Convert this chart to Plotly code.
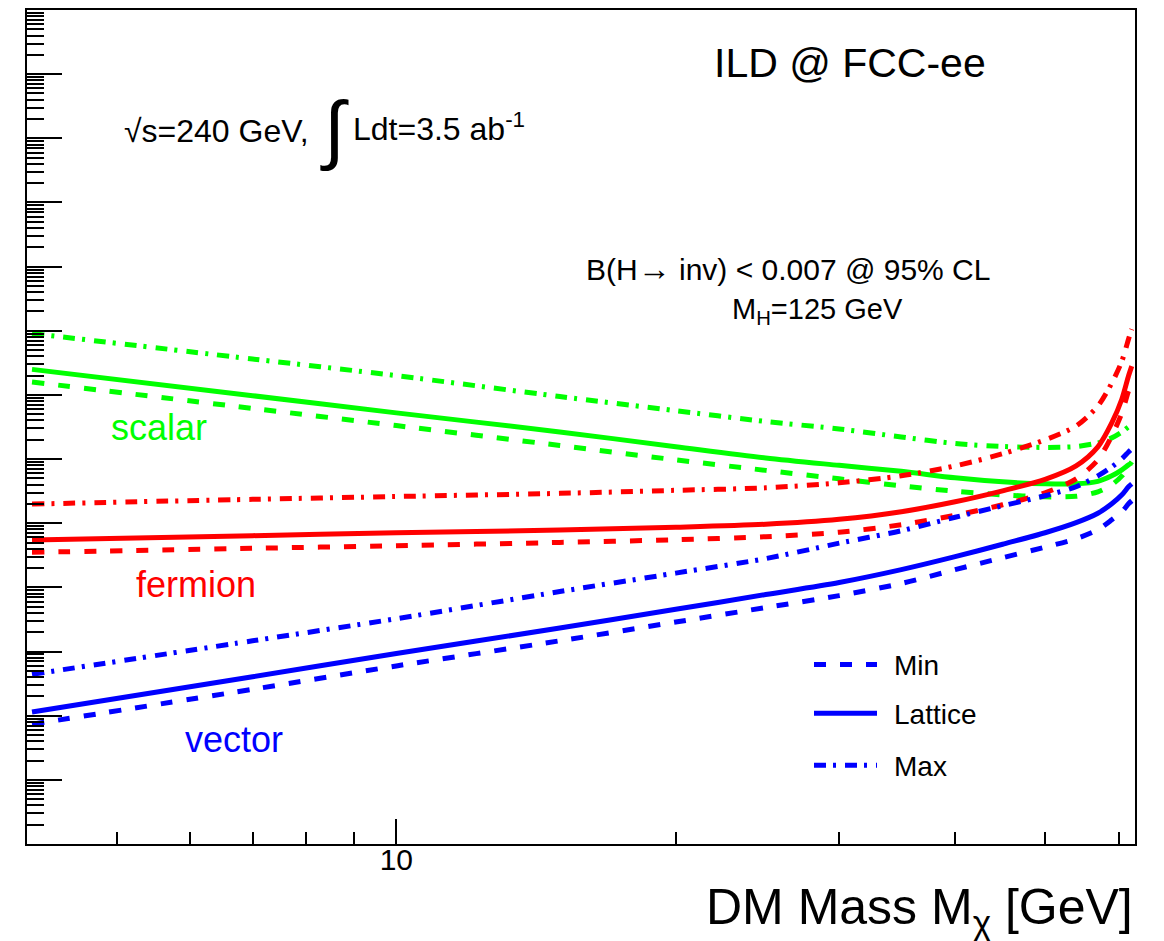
import math
import plotly.graph_objects as go

# ---------------- data (DM mass in GeV, cross section in cm^2) ----------------
mass = [4.05, 7, 10, 15, 20, 25, 30, 35, 40, 45, 50, 54, 57, 59, 60.5, 61.5, 62]

scalar_max = [9.08e-45, 3.63e-45, 2.00e-45, 9.44e-46, 5.68e-46, 3.85e-46, 2.95e-46, 2.21e-46, 1.75e-46,
              1.57e-46, 1.52e-46, 1.57e-46, 1.79e-46, 2.14e-46, 2.65e-46, 3.17e-46, 3.40e-46]
scalar_lat = [2.50e-45, 9.72e-46, 5.25e-46, 2.65e-46, 1.56e-46, 1.04e-46, 7.98e-47, 6.44e-47, 5.11e-47,
              4.42e-47, 4.11e-47, 4.11e-47, 4.50e-47, 5.48e-47, 6.79e-47, 8.13e-47, 8.73e-47]
scalar_min = [1.59e-45, 6.17e-46, 3.33e-46, 1.63e-46, 9.72e-47, 6.67e-47, 4.92e-47, 3.83e-47, 3.15e-47,
              2.77e-47, 2.58e-47, 2.63e-47, 3.09e-47, 3.97e-47, 5.48e-47, 7.57e-47, 9.04e-47]

fermion_max = [1.99e-47, 2.36e-47, 2.61e-47, 2.92e-47, 3.26e-47, 3.56e-47, 4.27e-47, 5.48e-47, 7.83e-47,
               1.21e-46, 1.99e-46, 3.28e-46, 6.71e-46, 1.53e-45, 3.37e-45, 7.40e-45, 1.06e-44]
fermion_lat = [5.48e-48, 6.40e-48, 7.11e-48, 7.83e-48, 8.67e-48, 9.64e-48, 1.15e-47, 1.51e-47, 2.16e-47,
               3.20e-47, 4.83e-47, 7.83e-47, 1.55e-46, 3.66e-46, 8.63e-46, 1.97e-45, 2.81e-45]
fermion_min = [3.52e-48, 4.06e-48, 4.47e-48, 5.02e-48, 5.53e-48, 6.17e-48, 7.24e-48, 9.48e-48, 1.33e-47,
               1.94e-47, 2.98e-47, 4.92e-47, 9.72e-47, 2.30e-46, 5.24e-46, 1.15e-45, 1.53e-45]

vector_max = [4.41e-50, 1.47e-49, 3.25e-49, 8.61e-49, 1.67e-48, 2.81e-48, 4.89e-48, 7.64e-48, 1.24e-47,
              1.87e-47, 2.68e-47, 3.70e-47, 5.48e-47, 7.57e-47, 1.01e-46, 1.29e-46, 1.44e-46]
vector_lat = [1.14e-50, 4.05e-50, 9.33e-50, 2.32e-49, 4.55e-49, 7.73e-49, 1.19e-48, 1.89e-48, 3.01e-48,
              4.71e-48, 7.11e-48, 1.02e-47, 1.43e-47, 2.01e-47, 2.77e-47, 3.70e-47, 4.11e-47]
vector_min = [7.35e-51, 2.58e-50, 5.97e-50, 1.47e-49, 2.88e-49, 4.85e-49, 7.45e-49, 1.15e-48, 1.89e-48,
              2.90e-48, 4.24e-48, 5.74e-48, 7.93e-48, 1.13e-47, 1.51e-47, 2.01e-47, 2.24e-47]

x_major_ticks = [10]
x_tick_labels = ["10"]
x_minor_ticks = [5, 6, 7, 8, 9, 20, 30, 40, 50, 60]
y_decades = list(range(-52, -38))

legend_labels = ["Min", "Lattice", "Max"]
type_labels = ["scalar", "fermion", "vector"]

# ---------------- styles ----------------
GREEN, RED, BLUE = "#00ff00", "#ff0000", "#0000ff"
DASHED = "12px,14px"
DASHDOT = "12px,7px,3px,9px"
LW = 5
FONT = "Liberation Sans, Arial, Helvetica, sans-serif"

W, H = 1164, 941
L, R, T, B = 27, 29, 8, 97
PW, PH = W - L - R, H - T - B


def px(x):
    return (x - L) / PW


def py(y):
    return (T + PH - y) / PH


fig = go.Figure()

curves = [
    (scalar_min, GREEN, DASHED), (scalar_lat, GREEN, "solid"), (scalar_max, GREEN, DASHDOT),
    (fermion_min, RED, DASHED), (fermion_lat, RED, "solid"), (fermion_max, RED, DASHDOT),
    (vector_min, BLUE, DASHED), (vector_lat, BLUE, "solid"), (vector_max, BLUE, DASHDOT),
]
for vals, col, dash in curves:
    fig.add_trace(go.Scatter(x=mass, y=vals, mode="lines",
                             line=dict(color=col, width=LW, dash=dash, shape="spline", smoothing=0.8),
                             showlegend=False, hoverinfo="skip"))

fig.update_layout(
    width=W, height=H,
    margin=dict(l=L, r=R, t=T, b=B),
    paper_bgcolor="white", plot_bgcolor="white",
    showlegend=False,
    font=dict(family=FONT, color="black"),
)

fig.update_xaxes(
    type="log", range=[math.log10(4), math.log10(62.5)],
    showline=True, linecolor="black", linewidth=2, mirror=True,
    ticks="inside", ticklen=25, tickwidth=2, tickcolor="black",
    tickmode="array", tickvals=x_major_ticks, ticktext=x_tick_labels,
    tickfont=dict(size=30, family=FONT, color="black"),
    ticklabelstandoff=-12,
    showgrid=False, zeroline=False,
    minor=dict(ticks="inside", ticklen=12, tickwidth=2, tickcolor="black",
               tickmode="array", tickvals=x_minor_ticks, showgrid=False),
)

fig.update_yaxes(
    type="log", range=[-52, -39],
    showline=True, linecolor="black", linewidth=2, mirror=True,
    ticks="inside", ticklen=35, tickwidth=2, tickcolor="black",
    tickmode="array", tickvals=[10.0 ** k for k in y_decades],
    showticklabels=False, showgrid=False, zeroline=False,
    minor=dict(ticks="inside", ticklen=17, tickwidth=2, tickcolor="black",
               tickmode="array",
               tickvals=[m * 10.0 ** k for k in y_decades for m in range(2, 10)],
               showgrid=False),
)

ann = []


def text(x, y, s, size, color="black", xanchor="left", yanchor="middle"):
    ann.append(dict(x=px(x), y=py(y), xref="paper", yref="paper", text=s,
                    showarrow=False, xanchor=xanchor, yanchor=yanchor,
                    font=dict(size=size, color=color, family=FONT)))


text(712, 61.5, "ILD @ FCC-ee", 41)
text(122, 129, "√s=240 GeV,", 32)
text(334, 127, "∫", 76, xanchor="center")
text(351, 125, "Ldt=3.5 ab<sup>-1</sup>", 32)
text(584, 267, "B(H<span style='font-size:33px'>→</span> inv) < 0.007 @ 95% CL", 30)
text(730, 310, "M<sub>H</sub>=125 GeV", 29)
text(109, 427, type_labels[0], 36, GREEN)
text(134, 584, type_labels[1], 36, RED)
text(183, 739, type_labels[2], 36, BLUE)
text(1135, 911, "DM Mass M<sub>χ</sub> [GeV]", 50, xanchor="right")

# legend (line-style key)
leg_y = [664, 713, 765]
leg_dash = [DASHED, "solid", DASHDOT]
shapes = []
for yy, lab, dsh in zip(leg_y, legend_labels, leg_dash):
    shapes.append(dict(type="line", xref="paper", yref="paper",
                       x0=px(814), x1=px(877), y0=py(yy), y1=py(yy),
                       line=dict(color=BLUE, width=LW, dash=dsh)))
    text(892, yy + 1, lab, 28)

fig.update_layout(annotations=ann, shapes=shapes)

fig.write_html("out.html")
